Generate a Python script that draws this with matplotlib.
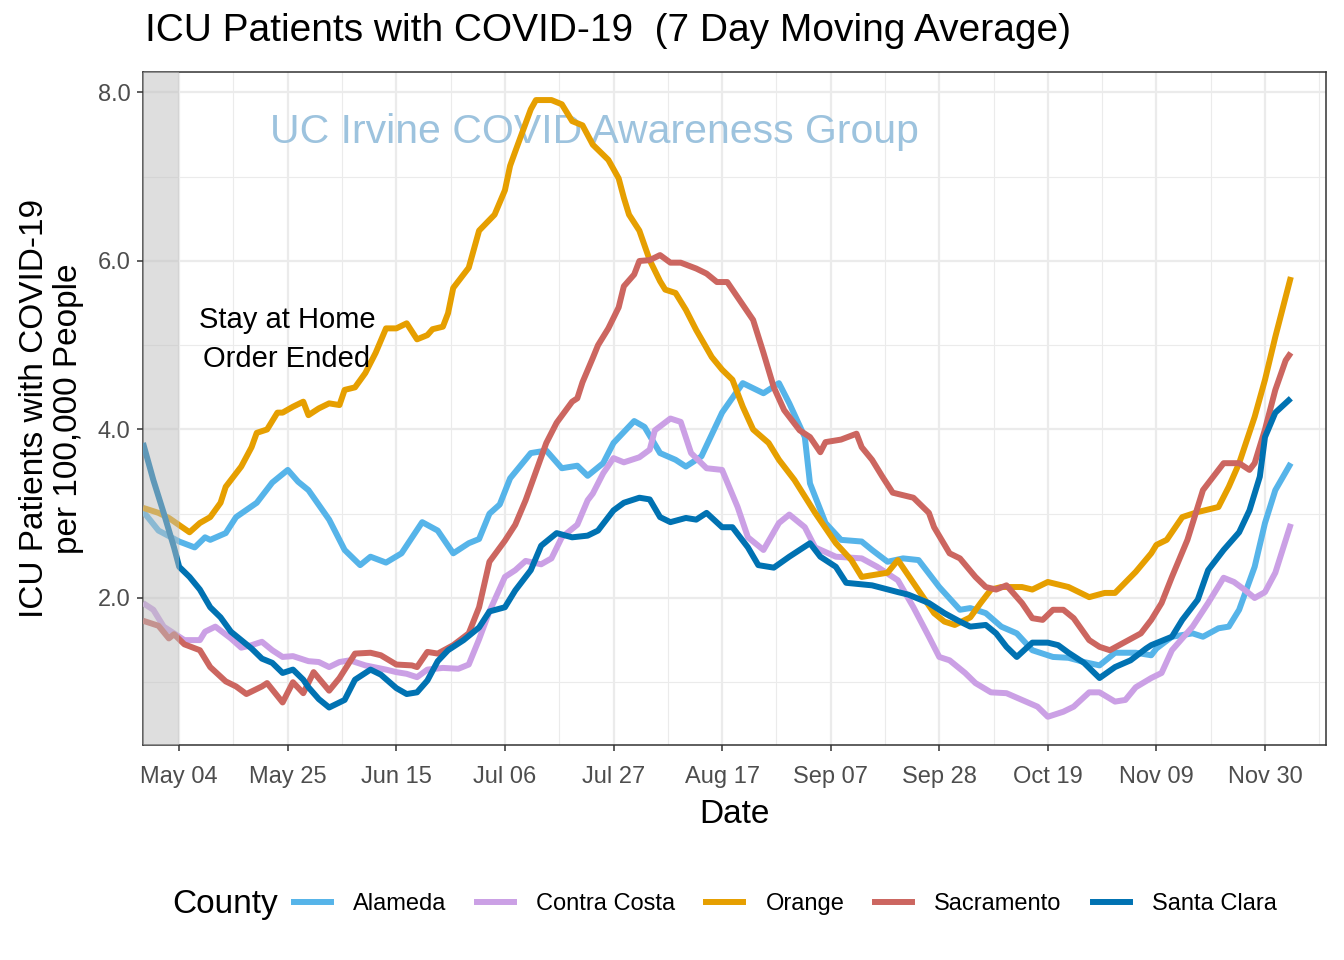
import pandas as pd
import matplotlib.pyplot as plt
from matplotlib.lines import Line2D

# days counted from 2020-04-27, values = ICU patients per 100,000 (7 day avg)
start = pd.Timestamp("2020-04-27")

alameda_day = [0, 3, 7, 10, 12, 13, 16, 18, 22, 25, 28, 30, 32, 36, 39, 42, 44, 47, 50, 54,
               57, 60, 63, 65, 67, 69, 71, 75, 78, 81, 84, 86, 89, 91, 95, 97, 100, 103, 105, 108,
               112, 116, 120, 123, 125, 128, 129, 132, 135, 139, 141, 144, 147, 150, 154, 158, 160, 163, 166, 169,
               172, 176, 179, 182, 185, 188, 192, 195, 196, 199, 203, 205, 208, 210, 212, 215, 217, 219, 222]
alameda_val = [3.03, 2.80, 2.67, 2.60, 2.72, 2.69, 2.77, 2.96, 3.13, 3.37, 3.52, 3.38, 3.28, 2.93, 2.57, 2.39, 2.49, 2.42, 2.53, 2.90,
               2.80, 2.53, 2.65, 2.70, 3.00, 3.11, 3.42, 3.72, 3.75, 3.54, 3.57, 3.45, 3.60, 3.84, 4.10, 4.03, 3.72, 3.64, 3.56, 3.68,
               4.20, 4.55, 4.43, 4.55, 4.31, 3.91, 3.36, 2.89, 2.69, 2.67, 2.57, 2.43, 2.47, 2.45, 2.13, 1.86, 1.88, 1.82, 1.66, 1.58,
               1.38, 1.30, 1.29, 1.24, 1.20, 1.35, 1.35, 1.32, 1.40, 1.54, 1.58, 1.54, 1.64, 1.66, 1.86, 2.37, 2.89, 3.28, 3.60]

contra_day = [0, 2, 4, 6, 8, 11, 12, 14, 17, 19, 21, 23, 25, 27, 29, 32, 34, 36, 38, 40,
              43, 47, 49, 51, 53, 55, 58, 61, 63, 65, 67, 70, 72, 74, 77, 79, 81, 84, 86, 87,
              89, 91, 93, 96, 98, 99, 102, 104, 106, 109, 112, 115, 117, 120, 123, 125, 128, 130, 134, 139,
              142, 145, 146, 149, 152, 154, 156, 159, 161, 164, 167, 170, 173, 175, 178, 180, 183, 185, 188, 190,
              192, 195, 197, 199, 203, 206, 209, 211, 213, 215, 217, 219, 222]
contra_val = [1.94, 1.86, 1.66, 1.58, 1.50, 1.50, 1.60, 1.66, 1.52, 1.41, 1.44, 1.48, 1.38, 1.30, 1.31, 1.25, 1.24, 1.18, 1.24, 1.26,
              1.20, 1.15, 1.12, 1.10, 1.06, 1.15, 1.17, 1.16, 1.21, 1.51, 1.84, 2.25, 2.33, 2.44, 2.40, 2.47, 2.72, 2.87, 3.16, 3.24,
              3.48, 3.66, 3.61, 3.67, 3.76, 3.99, 4.13, 4.09, 3.72, 3.54, 3.52, 3.08, 2.72, 2.57, 2.89, 2.99, 2.84, 2.60, 2.49, 2.47,
              2.37, 2.25, 2.21, 1.89, 1.54, 1.30, 1.26, 1.11, 0.99, 0.88, 0.87, 0.79, 0.71, 0.59, 0.65, 0.71, 0.88, 0.88, 0.77, 0.79,
              0.94, 1.05, 1.11, 1.38, 1.66, 1.94, 2.24, 2.19, 2.10, 2.00, 2.07, 2.30, 2.88]

orange_day = [0, 3, 5, 9, 11, 13, 15, 16, 19, 21, 22, 24, 26, 27, 29, 31, 32, 34, 36, 38,
              39, 41, 43, 45, 47, 49, 51, 53, 55, 56, 58, 59, 60, 63, 65, 68, 70, 71, 72, 75,
              76, 79, 81, 83, 85, 87, 90, 92, 93, 94, 96, 98, 100, 101, 103, 105, 107, 110, 112, 114,
              116, 118, 121, 123, 126, 130, 134, 137, 139, 144, 146, 149, 153, 155, 157, 160, 162, 164, 166, 170,
              172, 175, 179, 183, 186, 188, 192, 195, 196, 198, 201, 204, 208, 210, 212, 215, 217, 219, 222]
orange_val = [3.07, 3.01, 2.95, 2.78, 2.89, 2.96, 3.13, 3.32, 3.56, 3.79, 3.96, 4.00, 4.20, 4.20, 4.27, 4.33, 4.17, 4.25, 4.31, 4.29,
              4.47, 4.50, 4.67, 4.91, 5.20, 5.20, 5.26, 5.07, 5.12, 5.19, 5.22, 5.38, 5.68, 5.92, 6.36, 6.55, 6.84, 7.13, 7.30, 7.80,
              7.91, 7.91, 7.86, 7.66, 7.61, 7.38, 7.20, 6.98, 6.75, 6.55, 6.36, 6.01, 5.76, 5.66, 5.62, 5.42, 5.18, 4.86, 4.71, 4.59,
              4.27, 4.00, 3.84, 3.64, 3.40, 3.01, 2.65, 2.45, 2.25, 2.30, 2.45, 2.18, 1.82, 1.72, 1.68, 1.77, 1.94, 2.10, 2.13, 2.13,
              2.10, 2.19, 2.13, 2.01, 2.06, 2.06, 2.31, 2.53, 2.63, 2.69, 2.96, 3.02, 3.08, 3.32, 3.60, 4.15, 4.59, 5.10, 5.81]

sac_day = [0, 3, 5, 6, 8, 11, 13, 16, 18, 20, 23, 24, 27, 29, 31, 33, 36, 38, 41, 44,
           46, 49, 52, 53, 55, 57, 60, 63, 65, 67, 70, 72, 74, 76, 78, 80, 83, 84, 85, 87,
           88, 90, 92, 93, 95, 96, 98, 100, 102, 104, 107, 109, 111, 113, 115, 118, 120, 122, 124, 127,
           129, 131, 132, 135, 138, 139, 141, 143, 145, 149, 152, 153, 156, 158, 161, 163, 165, 167, 170, 172,
           174, 176, 178, 180, 183, 185, 187, 190, 193, 195, 197, 199, 202, 205, 207, 209, 212, 214, 215, 217,
           219, 221, 222]
sac_val = [1.73, 1.67, 1.52, 1.57, 1.45, 1.38, 1.18, 1.01, 0.95, 0.86, 0.95, 0.99, 0.76, 1.00, 0.87, 1.12, 0.90, 1.05, 1.34, 1.35,
           1.32, 1.21, 1.20, 1.18, 1.36, 1.34, 1.44, 1.58, 1.89, 2.43, 2.68, 2.87, 3.16, 3.50, 3.84, 4.08, 4.33, 4.37, 4.56, 4.85,
           5.00, 5.20, 5.45, 5.70, 5.84, 6.00, 6.01, 6.07, 5.98, 5.98, 5.91, 5.85, 5.75, 5.75, 5.57, 5.30, 4.91, 4.50, 4.23, 3.99,
           3.91, 3.73, 3.85, 3.88, 3.95, 3.79, 3.64, 3.44, 3.25, 3.19, 3.01, 2.84, 2.53, 2.47, 2.25, 2.13, 2.10, 2.15, 1.94, 1.76,
           1.74, 1.86, 1.86, 1.76, 1.50, 1.42, 1.38, 1.48, 1.58, 1.74, 1.94, 2.25, 2.69, 3.28, 3.44, 3.60, 3.60, 3.52, 3.60, 4.00,
           4.47, 4.82, 4.91]

sc_day = [0, 2, 4, 6, 7, 9, 11, 13, 15, 17, 19, 21, 23, 25, 27, 29, 31, 32, 34, 36,
          39, 41, 44, 46, 49, 51, 53, 55, 57, 59, 62, 65, 67, 70, 72, 75, 77, 80, 83, 86,
          88, 91, 93, 96, 98, 100, 102, 105, 107, 109, 112, 114, 117, 119, 122, 125, 129, 131, 134, 136,
          141, 146, 148, 152, 155, 158, 160, 163, 165, 167, 169, 172, 175, 177, 179, 182, 185, 188, 191, 194,
          195, 199, 201, 204, 206, 209, 212, 214, 216, 217, 219, 222]
sc_val = [3.84, 3.40, 3.01, 2.60, 2.37, 2.25, 2.10, 1.89, 1.77, 1.60, 1.50, 1.40, 1.28, 1.23, 1.11, 1.15, 1.03, 0.94, 0.80, 0.70,
          0.79, 1.03, 1.15, 1.09, 0.93, 0.86, 0.88, 1.02, 1.25, 1.38, 1.50, 1.65, 1.84, 1.89, 2.09, 2.33, 2.62, 2.77, 2.72, 2.74,
          2.80, 3.04, 3.13, 3.19, 3.17, 2.96, 2.90, 2.95, 2.93, 3.01, 2.84, 2.84, 2.60, 2.39, 2.36, 2.49, 2.65, 2.49, 2.37, 2.18,
          2.15, 2.07, 2.04, 1.94, 1.82, 1.72, 1.66, 1.68, 1.58, 1.42, 1.30, 1.47, 1.47, 1.44, 1.35, 1.23, 1.05, 1.18, 1.26, 1.40,
          1.44, 1.54, 1.74, 1.98, 2.33, 2.57, 2.78, 3.04, 3.44, 3.91, 4.20, 4.37]

counties = ["Alameda", "Contra Costa", "Orange", "Sacramento", "Santa Clara"]
colors = ["#56B4E9", "#CBA0E5", "#E69F00", "#CC6660", "#0072B2"]
series = [(alameda_day, alameda_val), (contra_day, contra_val), (orange_day, orange_val),
          (sac_day, sac_val), (sc_day, sc_val)]

tick_dates = pd.date_range("2020-05-04", periods=11, freq="21D")
order_ended = pd.Timestamp("2020-05-04")

plt.rcParams["font.family"] = ["Liberation Sans", "DejaVu Sans"]

fig = plt.figure(figsize=(13.44, 9.6), dpi=100)
ax = fig.add_axes([143 / 1344, 1 - 745 / 960, 1183 / 1344, 673 / 960])

for (days, vals), name, col in zip(series, counties, colors):
    dates = start + pd.to_timedelta(days, unit="D")
    ax.plot(dates, vals, color=col, lw=4.3, label=name, zorder=3, solid_capstyle="butt")

# shaded period before the stay at home order ended
ax.axvspan(start - pd.Timedelta(days=5), order_ended, color="#BEBEBE", alpha=0.5, lw=0, zorder=4)

ax.set_xlim(start, start + pd.Timedelta(days=228.8))
ax.set_ylim(0.255, 8.243)

ax.set_xticks(tick_dates)
ax.set_xticklabels([d.strftime("%b %d") for d in tick_dates])
ax.set_xticks(tick_dates + pd.Timedelta(hours=252), minor=True)
ax.set_yticks([2, 4, 6, 8])
ax.set_yticklabels(["2.0", "4.0", "6.0", "8.0"])
ax.set_yticks([1, 3, 5, 7], minor=True)

ax.grid(which="major", color="#EBEBEB", lw=1.6, zorder=0)
ax.grid(which="minor", color="#EBEBEB", lw=0.8, zorder=0)
ax.set_axisbelow(True)
ax.tick_params(which="major", length=4, width=1.1, color="#333333",
               labelsize=17, labelcolor="#4D4D4D", pad=5)
ax.tick_params(axis="x", which="major", pad=11)
ax.tick_params(which="minor", length=0)
for s in ax.spines.values():
    s.set_color("#333333")
    s.set_linewidth(1.1)

ax.set_xlabel("Date", fontsize=24, labelpad=8)
ax.set_ylabel("ICU Patients with COVID-19\nper 100,000 People", fontsize=24,
              labelpad=10, linespacing=1.1)

ax.text(0.382, 0.911, "UC Irvine COVID Awareness Group", transform=ax.transAxes,
        fontsize=29.5, color="#9DC3DE", ha="center", va="center", zorder=1)
ax.text(0.1217, 0.603, "Stay at Home\nOrder Ended", transform=ax.transAxes,
        fontsize=21, color="black", ha="center", va="center", linespacing=1.5, zorder=5)

fig.text(145 / 1344, 1 - 31 / 960, "ICU Patients with COVID-19  (7 Day Moving Average)",
         fontsize=28, va="center", ha="left")

handles = [Line2D([], [], color=c, lw=4.3) for c in colors]
fig.text(172 / 1344, 1 - 904 / 960, "County", fontsize=24, va="center", ha="left")
fig.legend(handles, counties, loc="center left", bbox_to_anchor=(294 / 1344, 1 - 904 / 960),
           ncol=5, frameon=False, fontsize=17, handlelength=1.57, handletextpad=0.93,
           columnspacing=1.31, borderpad=0, borderaxespad=0)

fig.savefig("out.png", dpi=100)
